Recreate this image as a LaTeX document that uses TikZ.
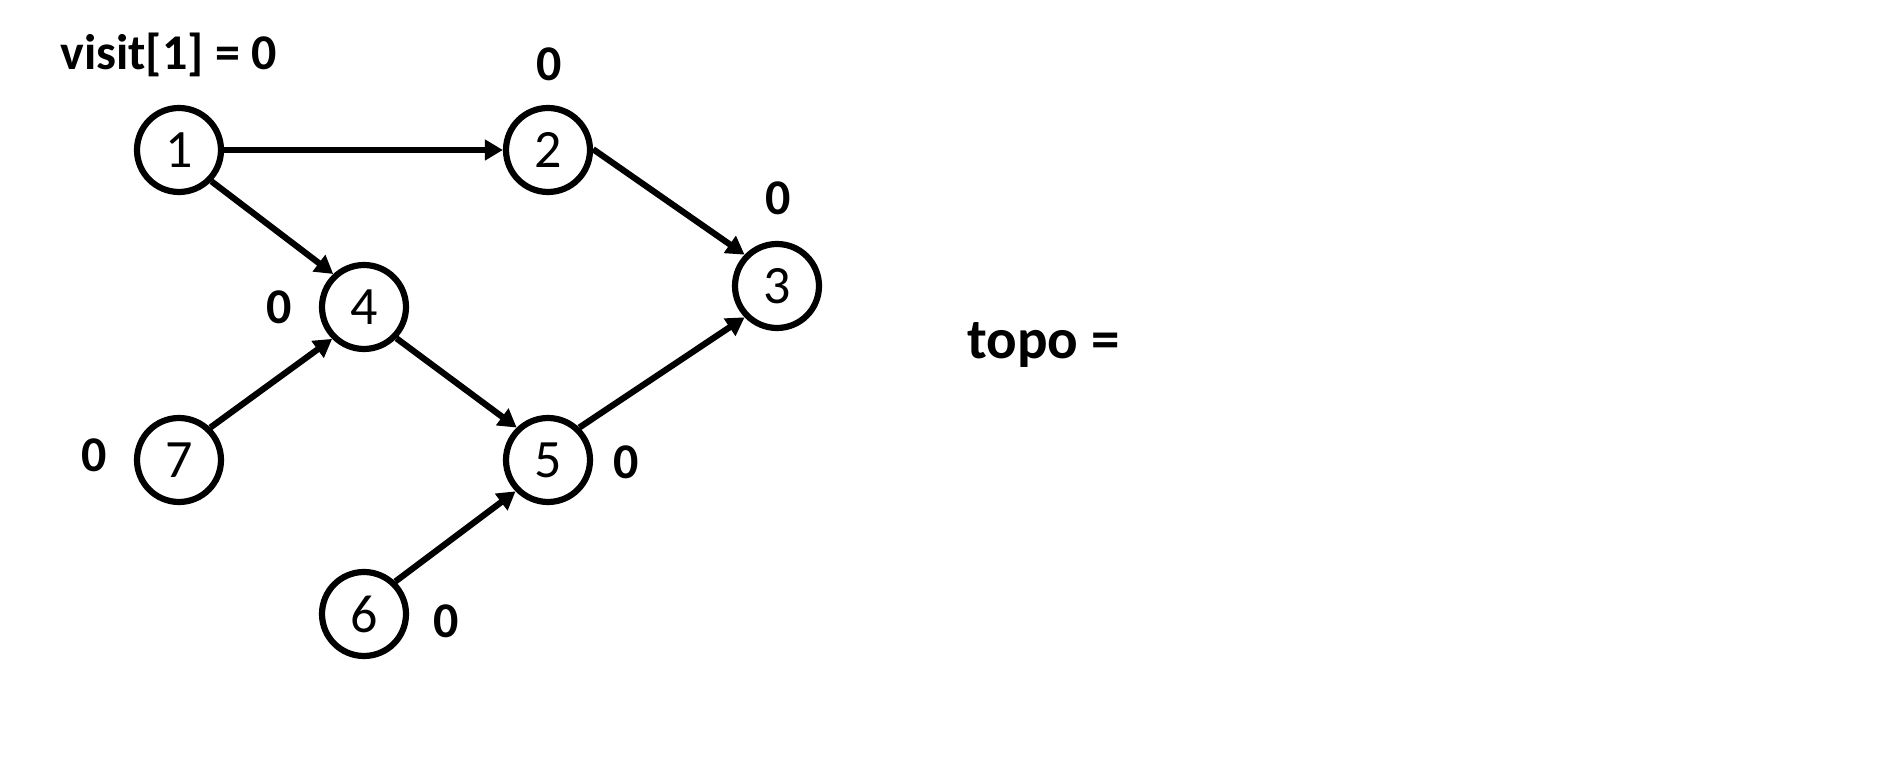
\documentclass[tikz,border=0pt]{standalone}
\usepackage{fontspec}
\setmainfont{Carlito}
\usetikzlibrary{arrows.meta}
\begin{document}
\begin{tikzpicture}[x=0.5pt,y=-0.5pt,
  vtx/.style={circle,draw,line width=3.1pt,minimum size=42pt,inner sep=0pt,font=\fontsize{27}{30}\selectfont},
  lbl/.style={font=\bfseries\fontsize{25}{28}\selectfont,inner sep=0pt},
  edge/.style={line width=3.1pt,-{Triangle[length=9pt,width=10pt]}}]
\useasboundingbox (0,0) rectangle (1883,763);
\node[vtx] (n1) at (179,150) {1};
\node[vtx] (n2) at (548,150) {2};
\node[vtx] (n3) at (777,286) {3};
\node[vtx] (n4) at (364,307) {4};
\node[vtx] (n5) at (548,460) {5};
\node[vtx] (n6) at (364,614) {6};
\node[vtx] (n7) at (179,460) {7};
\node[lbl,anchor=west] (vis) at (60,55) {visit[1] = 0};
\node[lbl] (l2) at (549,64) {0};
\node[lbl] (l3) at (778,198) {0};
\node[lbl] (l4) at (279,307) {0};
\node[lbl] (l7) at (94,455) {0};
\node[lbl] (l5) at (626,462) {0};
\node[lbl] (l6) at (446,621) {0};
\node[lbl,anchor=west,font=\bfseries\fontsize{28.5}{32}\selectfont] (topo) at (967,345) {topo =};
\draw[edge] (n1) -- (n2);
\draw[edge] (n1.-44) -- (n4.133);
\draw[edge] (n2.1) -- (n3.136);
\draw[edge] (n4.-44) -- (n5.134);
\draw[edge] (n7.46) -- (n4.225);
\draw[edge] (n5.46) -- (n3.224);
\draw[edge] (n6.46) -- (n5.224);
\end{tikzpicture}
\end{document}
